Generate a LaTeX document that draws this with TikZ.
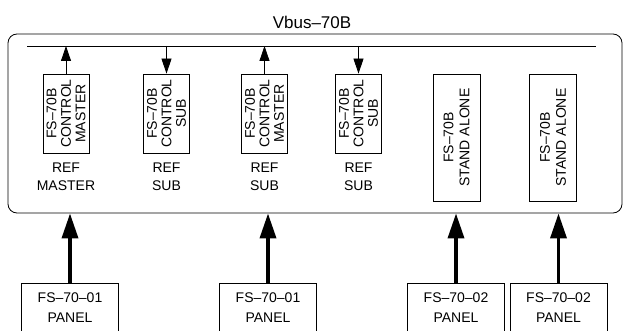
\documentclass[tikz,border=0pt]{standalone}
\usepackage{fontspec}
\setmainfont{Liberation Sans}
\usetikzlibrary{arrows.meta,positioning}

\begin{document}
\begin{tikzpicture}[x=1pt,y=-1pt,
    unitbox/.style={draw, line width=0.8pt, inner sep=0pt, minimum width=46pt, minimum height=79pt},
    alonebox/.style={unitbox, minimum width=47pt, minimum height=127pt},
    unitlbl/.style={rotate=90, align=center, inner sep=0pt, font=\fontsize{14}{14.5}\selectfont},
    alonelbl/.style={unitlbl, font=\fontsize{14}{16}\selectfont},
    reflbl/.style={align=center, inner sep=0pt, font=\fontsize{14}{18}\selectfont},
    panelbox/.style={draw, line width=0.8pt, minimum width=97pt, minimum height=50pt, align=center, font=\fontsize{14}{20}\selectfont},
    busarrow/.style={line width=0.8pt, -{Triangle[length=15pt,width=10pt]}},
    feedarrow/.style={line width=3.5pt, -{Triangle[length=25pt,width=16pt]}}]
    \useasboundingbox (0,0) rectangle (623,331);
    % Vbus frame and title
    \node[draw, line width=0.8pt, rounded corners=9pt, minimum width=614pt, minimum height=179pt] (vbus) at (315,123.5) {};
    \node[font=\fontsize{17}{17}\selectfont] (title) at (312,22) {Vbus–70B};
    % Bus line
    \coordinate (busL) at (27,46);
    \coordinate (busR) at (596,46);
    \draw[line width=0.8pt] (busL) -- (busR);
    % FS-70B units
    \node[unitbox] (u1) at (66,113.5) {};
    \node[unitlbl] at (u1) {FS–70B\\CONTROL\\MASTER};
    \node[reflbl, below=9pt of u1] (r1) {REF\\MASTER};
    \node[unitbox] (u2) at (166.5,113.5) {};
    \node[unitlbl] at (u2) {FS–70B\\CONTROL\\SUB};
    \node[reflbl, below=9pt of u2] (r2) {REF\\SUB};
    \node[unitbox] (u3) at (264.5,113.5) {};
    \node[unitlbl] at (u3) {FS–70B\\CONTROL\\MASTER};
    \node[reflbl, below=9pt of u3] (r3) {REF\\SUB};
    \node[unitbox] (u4) at (358.5,113.5) {};
    \node[unitlbl] at (u4) {FS–70B\\CONTROL\\SUB};
    \node[reflbl, below=9pt of u4] (r4) {REF\\SUB};
    \node[alonebox] (u5) at (456.5,137.5) {};
    \node[alonelbl] at (u5) {FS–70B\\STAND ALONE};
    \node[alonebox] (u6) at (553,137.5) {};
    \node[alonelbl] at (u6) {FS–70B\\STAND ALONE};
    % Unit to bus connections
    \draw[busarrow] (u1.north) -- (u1.north |- busL);
    \draw[busarrow] (u2.north |- busL) -- (u2.north);
    \draw[busarrow] (u3.north) -- (u3.north |- busL);
    \draw[busarrow] (u4.north |- busL) -- (u4.north);
    % Panels
    \node[panelbox] (pA) at (70,308) {FS–70–01\\PANEL};
    \node[panelbox] (pB) at (268,308) {FS–70–01\\PANEL};
    \node[panelbox] (pC) at (456,308) {FS–70–02\\PANEL};
    \node[panelbox] (pD) at (558.5,308) {FS–70–02\\PANEL};
    % Panel feeds
    \draw[feedarrow] (pA.north) -- (pA.north |- vbus.south);
    \draw[feedarrow] (pB.north) -- (pB.north |- vbus.south);
    \draw[feedarrow] (pC.north) -- (pC.north |- vbus.south);
    \draw[feedarrow] (pD.north) -- (pD.north |- vbus.south);
  \end{tikzpicture}
\end{document}
